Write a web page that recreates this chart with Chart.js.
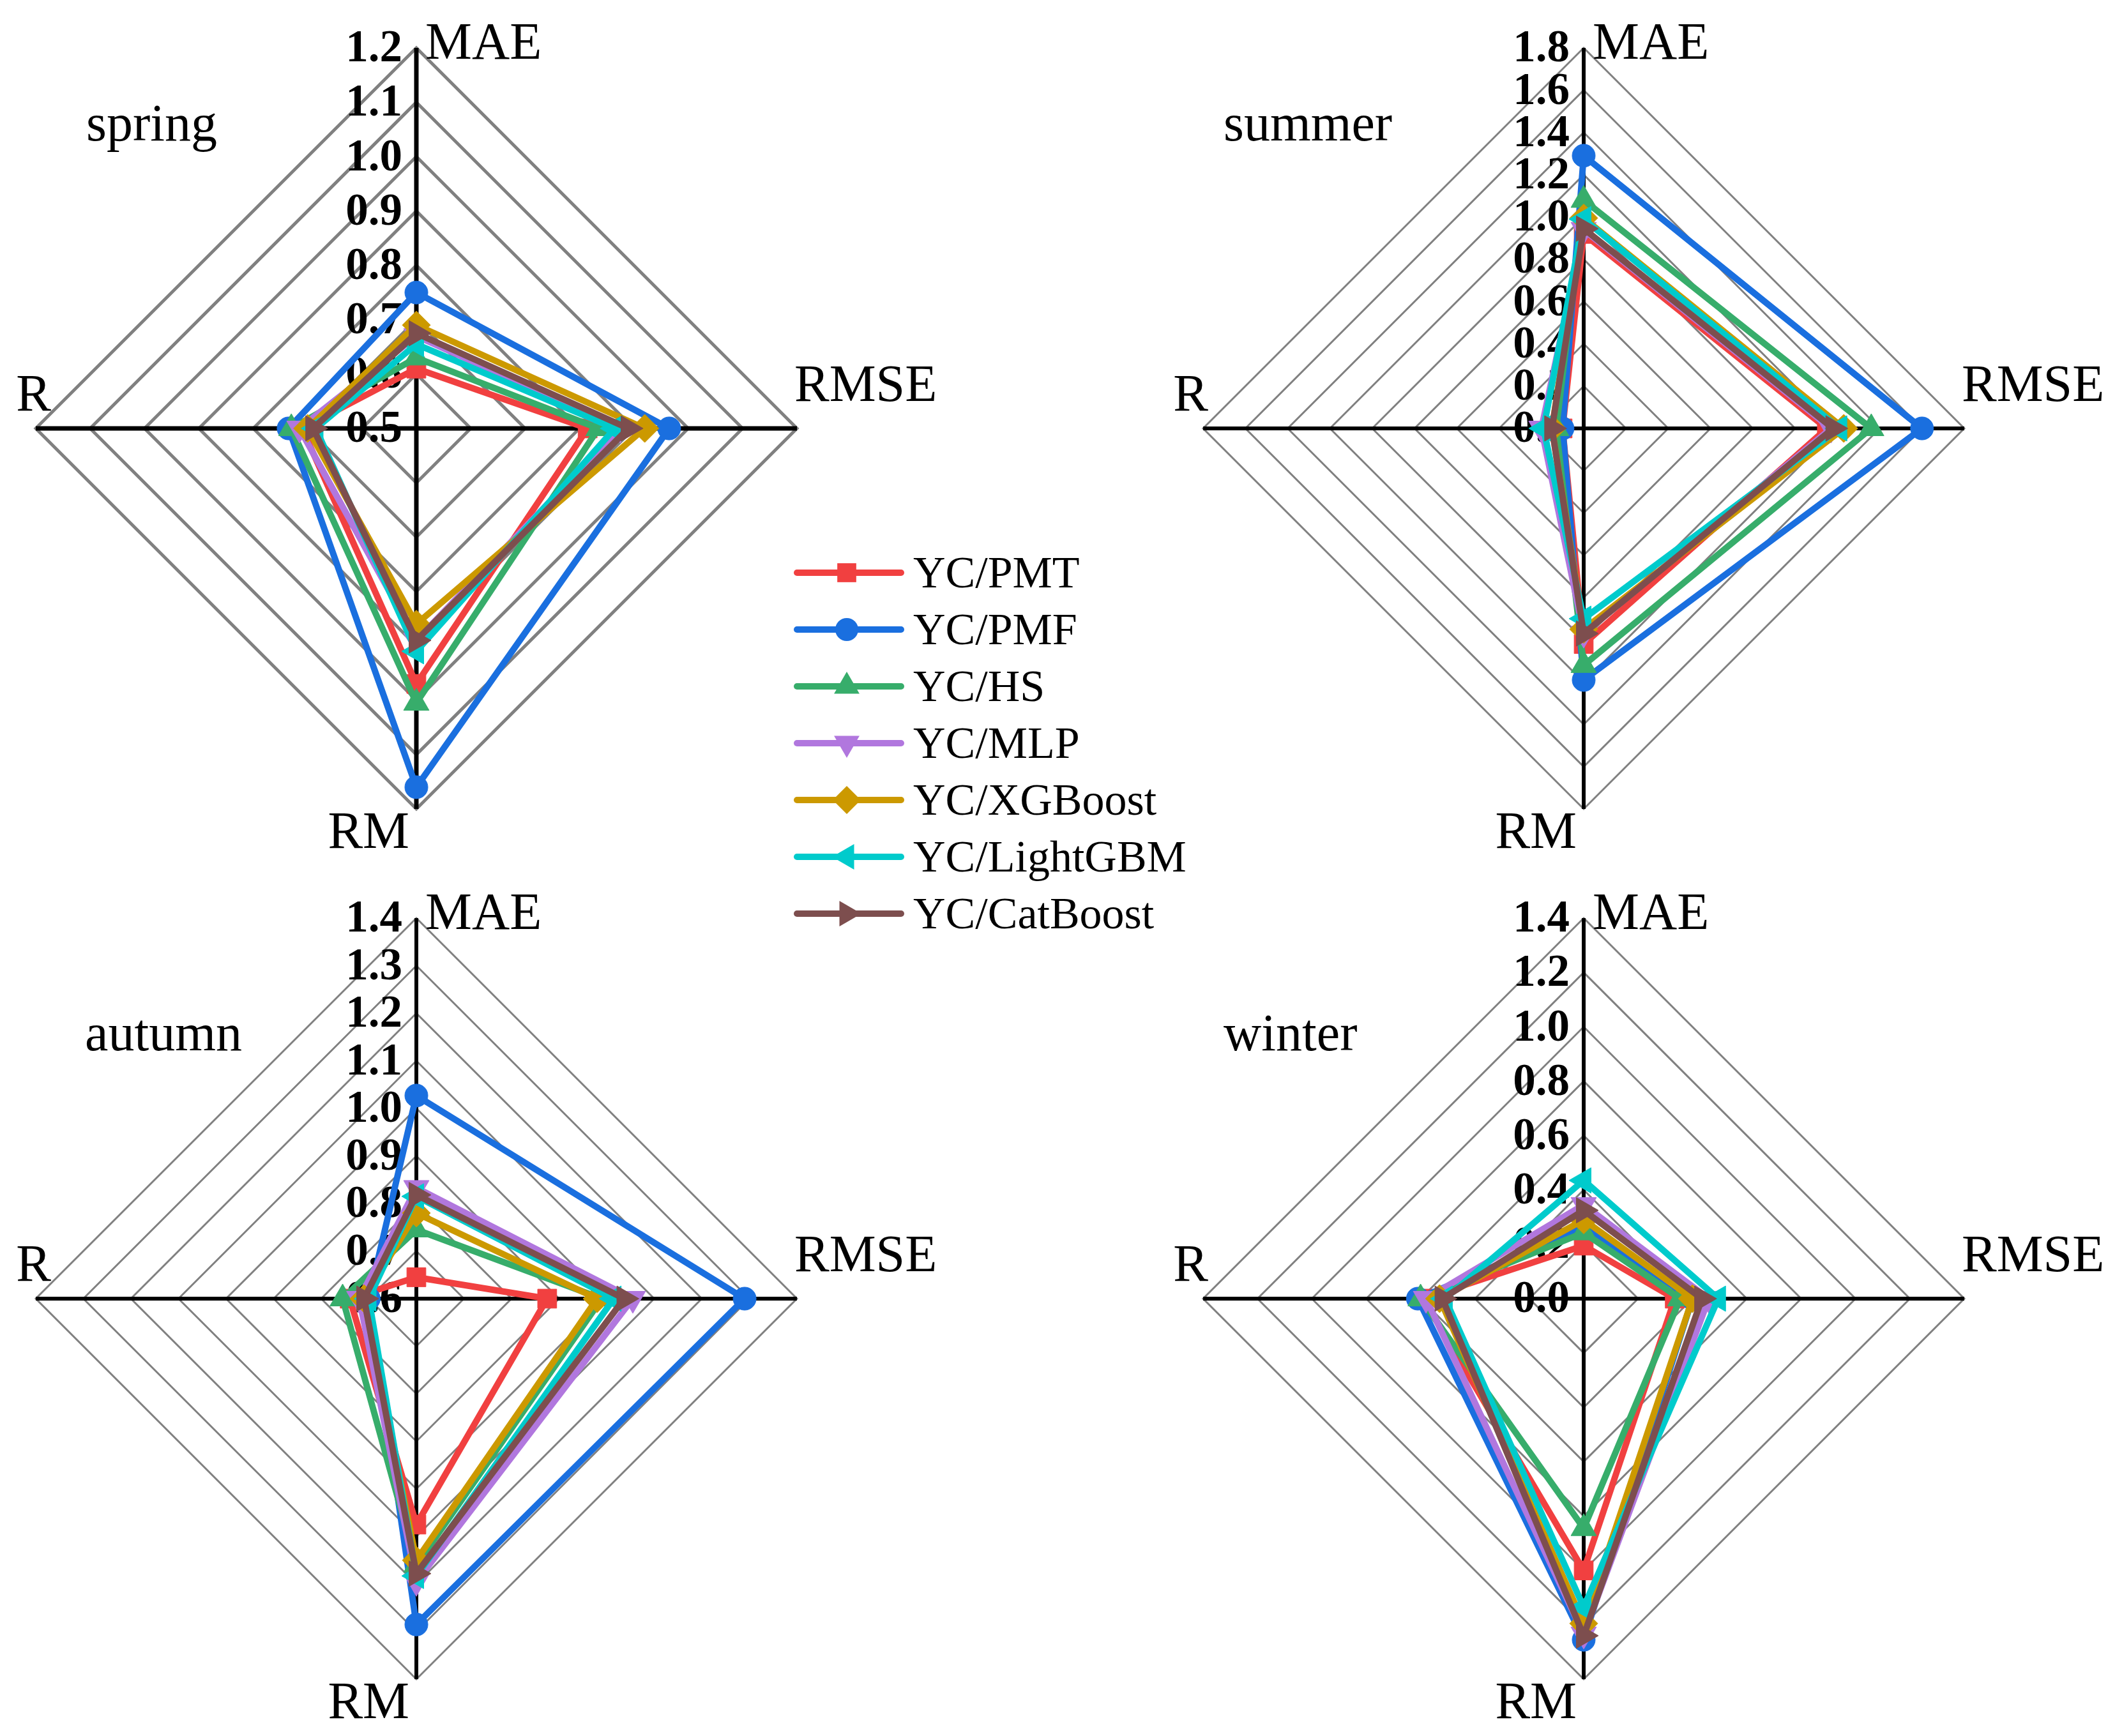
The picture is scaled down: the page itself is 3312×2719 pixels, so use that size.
<!DOCTYPE html>
<html>
<head>
<meta charset="utf-8">
<script src="https://cdn.jsdelivr.net/npm/chart.js@4.4.1/dist/chart.umd.min.js"></script>
<style>
  html, body { margin: 0; padding: 0; background: #fff; overflow: hidden; }
  #page { position: relative; width: 3312px; height: 2719px; overflow: hidden; background: #fff; }
  canvas { position: absolute; }
</style>
</head>
<body>
<div id="page">
  <canvas id="spring" width="1800" height="1400"></canvas>
  <canvas id="summer" width="1800" height="1400"></canvas>
  <canvas id="autumn" width="1800" height="1400"></canvas>
  <canvas id="winter" width="1800" height="1400"></canvas>
  <canvas id="legend" width="720" height="680"></canvas>
</div>
<script>
// axes, clockwise from the top
const metrics = ['MAE', 'RMSE', 'RM', 'R'];
const models = ['YC/PMT', 'YC/PMF', 'YC/HS', 'YC/MLP', 'YC/XGBoost', 'YC/LightGBM', 'YC/CatBoost'];
const colors = ['#F14040', '#1A6FDF', '#37AD6B', '#B177DE', '#CC9900', '#00CBCC', '#7D4E4E'];
const markers = ['rect', 'circle', 'triangle', 'triangle', 'rectRot', 'triangle', 'triangle'];
const markerRotation = [0, 0, 0, 180, 0, 270, 90];
const markerSize = [21, 18, 23, 23, 22, 23, 23];

// values per model: [MAE, RMSE, RM, R]
const springValues = [
  [0.61, 0.815, 0.97, 0.71],
  [0.75, 0.965, 1.16, 0.735],
  [0.63, 0.835, 1.005, 0.73],
  [0.67, 0.875, 0.89, 0.715],
  [0.69, 0.92, 0.86, 0.70],
  [0.655, 0.865, 0.91, 0.685],
  [0.675, 0.89, 0.89, 0.69]
];
const summerValues = [
  [0.92, 1.15, 1.02, 0.10],
  [1.29, 1.60, 1.19, 0.10],
  [1.08, 1.36, 1.12, 0.13],
  [0.94, 1.17, 0.97, 0.20],
  [0.995, 1.23, 0.95, 0.15],
  [0.99, 1.21, 0.90, 0.19],
  [0.945, 1.18, 0.97, 0.15]
];
const autumnValues = [
  [0.645, 0.875, 1.075, 0.74],
  [1.027, 1.29, 1.285, 0.70],
  [0.745, 0.99, 1.16, 0.755],
  [0.833, 1.055, 1.195, 0.72],
  [0.78, 0.98, 1.15, 0.71],
  [0.815, 1.015, 1.183, 0.70],
  [0.818, 1.037, 1.178, 0.71]
];
const winterValues = [
  [0.195, 0.335, 1.0, 0.59],
  [0.26, 0.40, 1.255, 0.61],
  [0.243, 0.355, 0.845, 0.60],
  [0.345, 0.46, 1.235, 0.58],
  [0.29, 0.40, 1.195, 0.53],
  [0.435, 0.495, 1.135, 0.51],
  [0.325, 0.435, 1.24, 0.52]
];

// radial axis ranges: [min, max, step]
const springRange = [0.5, 1.2, 0.1];
const summerRange = [0.0, 1.8, 0.2];
const autumnRange = [0.6, 1.4, 0.1];
const winterRange = [0.0, 1.4, 0.2];

const serif = '"Liberation Serif", "Times New Roman", serif';

// tick labels, axis names and panel title, placed from the scale geometry
const radarText = {
  id: 'radarText',
  beforeDatasetsDraw(chart, args, opts) {
    const s = chart.scales.r;
    const ctx = chart.ctx;
    ctx.save();
    ctx.fillStyle = '#000';

    ctx.font = 'bold 71px ' + serif;
    ctx.textAlign = 'right';
    ctx.textBaseline = 'middle';
    s.ticks.forEach(t => {
      const d = s.getDistanceFromCenterForValue(t.value);
      ctx.fillText(t.value.toFixed(1), s.xCenter - 22, s.yCenter - d + 3);
    });

    ctx.font = '82px ' + serif;
    ctx.textBaseline = 'alphabetic';
    const r = s.drawingArea;
    const top = s.getPointPosition(0, r);
    const right = s.getPointPosition(1, r);
    const bottom = s.getPointPosition(2, r);
    const left = s.getPointPosition(3, r);
    ctx.textAlign = 'left';
    ctx.fillText(metrics[0], top.x + 14, top.y + 17);
    ctx.fillText(metrics[1], right.x - 4, right.y - 43);
    ctx.textAlign = 'right';
    ctx.fillText(metrics[2], bottom.x - 11, bottom.y + 61);
    ctx.fillText(metrics[3], left.x + opts.rShift, left.y - 28);

    ctx.textAlign = 'left';
    ctx.fillText(opts.title, s.xCenter + opts.titleAt[0], s.yCenter + opts.titleAt[1]);
    ctx.restore();
  }
};

function makeRadar(id, values, range, look) {
  const el = document.getElementById(id);
  el.style.left = (look.cx - 900) + 'px';
  el.style.top = (look.cy - 700) + 'px';
  return new Chart(el, {
    type: 'radar',
    data: {
      labels: metrics,
      datasets: models.map((name, i) => ({
        label: name,
        data: values[i],
        borderColor: colors[i],
        backgroundColor: colors[i],
        pointBackgroundColor: colors[i],
        pointBorderColor: colors[i],
        pointBorderWidth: 1,
        pointStyle: markers[i],
        pointRotation: markerRotation[i],
        pointRadius: markerSize[i],
        borderWidth: 10,
        borderJoinStyle: 'round',
        borderCapStyle: 'round',
        fill: false,
        tension: 0,
        clip: false,
        order: models.length - i
      }))
    },
    options: {
      responsive: false,
      animation: false,
      events: [],
      layout: { padding: { top: 104, bottom: 104, left: 0, right: 0 } },
      plugins: {
        legend: { display: false },
        tooltip: { enabled: false },
        radarText: { title: id, titleAt: look.titleAt, rShift: look.rShift }
      },
      scales: {
        r: {
          min: range[0],
          max: range[1],
          beginAtZero: false,
          ticks: { stepSize: range[2], display: false },
          pointLabels: { display: false },
          grid: { color: '#808080', lineWidth: look.grid },
          angleLines: { color: '#000', lineWidth: look.axis }
        }
      }
    },
    plugins: [radarText]
  });
}

makeRadar('spring', springValues, springRange, { cx: 652, cy: 671, grid: 5, axis: 7, titleAt: [-517, -451], rShift: 24 });
makeRadar('summer', summerValues, summerRange, { cx: 2480, cy: 671, grid: 3, axis: 6, titleAt: [-564, -451], rShift: 8 });
makeRadar('autumn', autumnValues, autumnRange, { cx: 652, cy: 2034, grid: 3, axis: 6, titleAt: [-519, -389], rShift: 24 });
makeRadar('winter', winterValues, winterRange, { cx: 2480, cy: 2034, grid: 3, axis: 6, titleAt: [-564, -389], rShift: 8 });

// legend between the panels
(function drawLegend() {
  const el = document.getElementById('legend');
  const ox = 1200, oy = 820;
  el.style.left = ox + 'px';
  el.style.top = oy + 'px';
  const ctx = el.getContext('2d');

  function marker(style, rot, r, x, y) {
    ctx.save();
    ctx.translate(x, y);
    ctx.rotate(rot * Math.PI / 180);
    ctx.beginPath();
    if (style === 'circle') {
      ctx.arc(0, 0, r, 0, Math.PI * 2);
    } else if (style === 'rect') {
      const h = r * Math.SQRT1_2;
      ctx.rect(-h, -h, 2 * h, 2 * h);
    } else if (style === 'rectRot') {
      ctx.moveTo(0, -r); ctx.lineTo(r, 0); ctx.lineTo(0, r); ctx.lineTo(-r, 0);
    } else {
      for (let k = 0; k < 3; k++) {
        const a = k * 2 * Math.PI / 3;
        ctx[k ? 'lineTo' : 'moveTo'](Math.sin(a) * r, -Math.cos(a) * r);
      }
    }
    ctx.closePath();
    ctx.fill();
    ctx.restore();
  }

  models.forEach((name, i) => {
    const y = 897 + 89 * i - oy;
    ctx.strokeStyle = colors[i];
    ctx.fillStyle = colors[i];
    ctx.lineWidth = 10;
    ctx.lineCap = 'round';
    ctx.beginPath();
    ctx.moveTo(1248 - ox, y);
    ctx.lineTo(1411 - ox, y);
    ctx.stroke();
    marker(markers[i], markerRotation[i], markerSize[i], 1326 - ox, y);
    ctx.fillStyle = '#000';
    ctx.font = '70px ' + serif;
    ctx.textAlign = 'left';
    ctx.textBaseline = 'alphabetic';
    ctx.fillText(name, 1430 - ox, y + 23);
  });
})();
</script>
</body>
</html>
